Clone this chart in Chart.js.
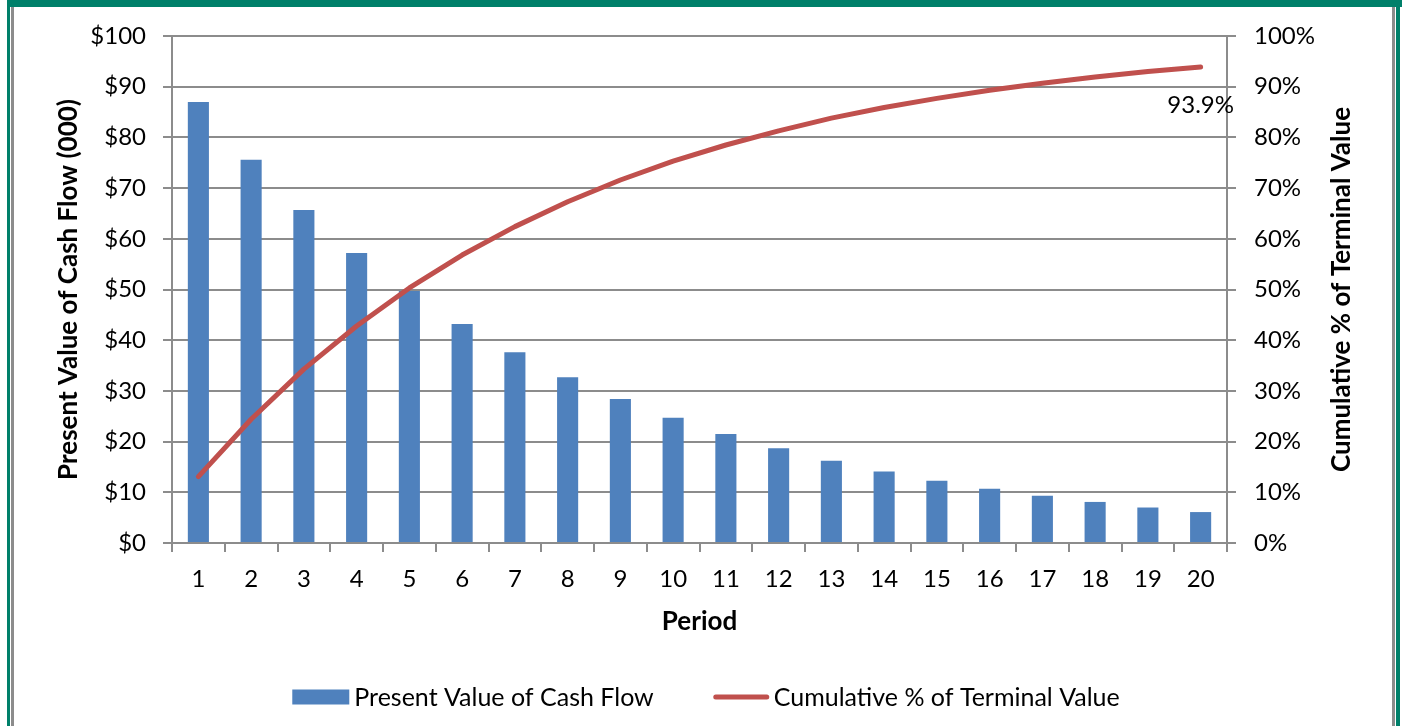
<!DOCTYPE html>
<html>
<head>
<meta charset="utf-8">
<script src="https://cdn.jsdelivr.net/npm/chart.js@4/dist/chart.umd.min.js"></script>
<style>
  html, body { margin: 0; padding: 0; background: #fff; }
  #wrap { position: relative; width: 1402px; height: 726px; overflow: hidden; background: #fff; }
  #c { position: absolute; left: 0; top: 0; }
  .frame { position: absolute; }
</style>
</head>
<body>
<div id="wrap">
  <canvas id="c" width="1402" height="726"></canvas>
  <div class="frame" style="left:7px;top:0;width:1395px;height:7px;background:#00806a"></div>
  <div class="frame" style="left:7px;top:0;width:3px;height:726px;background:#00806a"></div>
  <div class="frame" style="left:11px;top:7px;width:3px;height:719px;background:#8c8c8c"></div>
  <div class="frame" style="left:1392px;top:7px;width:3px;height:719px;background:#8c8c8c"></div>
  <div class="frame" style="left:1396px;top:0;width:4px;height:726px;background:#00806a"></div>
</div>
<script>
// Period labels along the horizontal axis
const periods = ['1','2','3','4','5','6','7','8','9','10','11','12','13','14','15','16','17','18','19','20'];
// Present value of each period's cash flow, in $000
const presentValues = [87.0, 75.6, 65.7, 57.2, 49.7, 43.2, 37.6, 32.7, 28.4, 24.7, 21.5, 18.7, 16.2, 14.1, 12.3, 10.7, 9.3, 8.1, 7.0, 6.1];
// Running share of terminal value, in percent
const cumulativePct = [13.1, 24.4, 34.3, 42.8, 50.3, 56.8, 62.4, 67.3, 71.6, 75.3, 78.5, 81.3, 83.8, 85.9, 87.7, 89.3, 90.7, 91.9, 93.0, 93.9];
// Axis tick values
const dollarTicks = [0, 10, 20, 30, 40, 50, 60, 70, 80, 90, 100];
const percentTicks = [0, 10, 20, 30, 40, 50, 60, 70, 80, 90, 100];

const seriesNames = ['Present Value of Cash Flow', 'Cumulative % of Terminal Value'];
const axisTitles = { left: 'Present Value of Cash Flow (000)', right: 'Cumulative % of Terminal Value', bottom: 'Period' };

const FONT = 'Lato';
const BLUE = '#4f81bd';
const RED = '#c0504d';
const GRID = '#8c8c8c';
const TICK_SIZE = 24;
const TITLE_SIZE = 26;
const LEGEND_SIZE = 25;

Chart.defaults.font.family = FONT;
Chart.defaults.font.size = TICK_SIZE;
Chart.defaults.color = '#000';

// Right-hand axis title, read bottom-to-top
const rightTitle = {
  id: 'rightTitle',
  afterDraw(chart) {
    const ctx = chart.ctx;
    const area = chart.chartArea;
    ctx.save();
    ctx.translate(1342, (area.top + area.bottom) / 2);
    ctx.rotate(-Math.PI / 2);
    ctx.font = 'bold ' + TITLE_SIZE + 'px ' + FONT;
    ctx.fillStyle = '#000';
    ctx.textAlign = 'center';
    ctx.textBaseline = 'middle';
    ctx.fillText(axisTitles.right, 0, 0);
    ctx.restore();
  }
};

// Value label under the final point of the cumulative line
const endLabel = {
  id: 'endLabel',
  afterDatasetsDraw(chart) {
    const meta = chart.getDatasetMeta(1);
    const last = meta.data[meta.data.length - 1];
    const ctx = chart.ctx;
    ctx.save();
    ctx.font = '24px ' + FONT;
    ctx.fillStyle = '#000';
    ctx.textAlign = 'center';
    ctx.textBaseline = 'middle';
    ctx.fillText(cumulativePct[cumulativePct.length - 1].toFixed(1) + '%', last.x, last.y + 38);
    ctx.restore();
  }
};

// Legend row along the bottom
const bottomLegend = {
  id: 'bottomLegend',
  afterDraw(chart) {
    const ctx = chart.ctx;
    ctx.save();
    ctx.font = LEGEND_SIZE + 'px ' + FONT;
    ctx.textBaseline = 'middle';
    ctx.fillStyle = '#000';
    const w1 = ctx.measureText(seriesNames[0]).width;
    const w2 = ctx.measureText(seriesNames[1]).width;
    const total = 57 + 5 + w1 + 60 + 55 + 5 + w2;
    const cy = 697;
    let x = 706 - total / 2;
    ctx.fillStyle = BLUE;
    ctx.fillRect(x, cy - 7.5, 57, 15);
    x += 62;
    ctx.fillStyle = '#000';
    ctx.textAlign = 'left';
    ctx.fillText(seriesNames[0], x, cy + 1);
    x += w1 + 60;
    ctx.strokeStyle = RED;
    ctx.lineWidth = 5;
    ctx.lineCap = 'round';
    ctx.beginPath();
    ctx.moveTo(x + 2, cy);
    ctx.lineTo(x + 53, cy);
    ctx.stroke();
    x += 60;
    ctx.fillText(seriesNames[1], x, cy + 1);
    ctx.restore();
  }
};

new Chart(document.getElementById('c'), {
  type: 'bar',
  data: {
    labels: periods,
    datasets: [
      {
        type: 'bar',
        label: seriesNames[0],
        data: presentValues,
        backgroundColor: BLUE,
        borderWidth: 0,
        barPercentage: 0.8,
        categoryPercentage: 0.5,
        yAxisID: 'y',
        order: 1
      },
      {
        type: 'line',
        label: seriesNames[1],
        data: cumulativePct,
        borderColor: RED,
        backgroundColor: RED,
        borderWidth: 5,
        borderCapStyle: 'round',
        borderJoinStyle: 'round',
        pointRadius: 0,
        tension: 0,
        yAxisID: 'y2',
        order: 0
      }
    ]
  },
  options: {
    responsive: false,
    animation: false,
    devicePixelRatio: 1,
    layout: { padding: { left: 0, right: 0, top: 36, bottom: 83 } },
    plugins: {
      legend: { display: false },
      tooltip: { enabled: false }
    },
    scales: {
      x: {
        offset: true,
        grid: {
          offset: true,
          drawOnChartArea: false,
          drawTicks: true,
          tickLength: 9,
          color: GRID,
          lineWidth: 2
        },
        border: { display: true, color: GRID, width: 2 },
        ticks: { padding: 13, font: { size: TICK_SIZE } },
        title: {
          display: true,
          text: axisTitles.bottom,
          font: { size: TITLE_SIZE, weight: 'bold' },
          padding: { top: 0, bottom: 6 }
        },
        afterFit(scale) { scale.height = 100; }
      },
      y: {
        position: 'left',
        min: 0,
        max: 100,
        afterBuildTicks(scale) { scale.ticks = dollarTicks.map(v => ({ value: v })); },
        ticks: { padding: 17, callback: v => '$' + v, font: { size: TICK_SIZE } },
        grid: { color: GRID, lineWidth: 2, tickLength: 9, drawTicks: true },
        border: { display: true, color: GRID, width: 2 },
        title: {
          display: true,
          text: axisTitles.left,
          font: { size: TITLE_SIZE, weight: 'bold' },
          padding: { top: 53, bottom: 0 }
        },
        afterFit(scale) { scale.width = 172; }
      },
      y2: {
        position: 'right',
        min: 0,
        max: 100,
        afterBuildTicks(scale) { scale.ticks = percentTicks.map(v => ({ value: v })); },
        ticks: { padding: 18, callback: v => v + '%', font: { size: TICK_SIZE } },
        grid: { drawOnChartArea: false, color: GRID, lineWidth: 2, tickLength: 9, drawTicks: true },
        border: { display: true, color: GRID, width: 2 },
        title: { display: false },
        afterFit(scale) { scale.width = 175; }
      }
    }
  },
  plugins: [rightTitle, endLabel, bottomLegend]
});
</script>
</body>
</html>
